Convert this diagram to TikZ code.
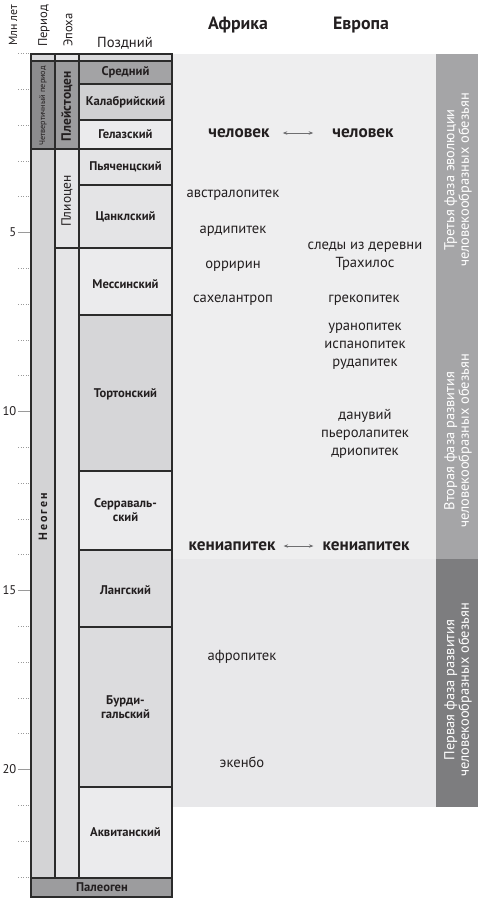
\documentclass[tikz,border=0pt]{standalone}
\usepackage{fontspec}
\setmainfont{PT Sans}
\usetikzlibrary{arrows.meta}
\definecolor{ink}{HTML}{231F20}
\definecolor{edge}{HTML}{2B2B2B}
\definecolor{panelA}{HTML}{EEEEEF}
\definecolor{panelC}{HTML}{E8E8EA}
\definecolor{bandA}{HTML}{A5A5A7}
\definecolor{bandC}{HTML}{7D7D7F}
\definecolor{quat}{HTML}{8C8C8E}
\definecolor{pleist}{HTML}{9C9C9E}
\definecolor{neog}{HTML}{D3D3D5}
\definecolor{epo}{HTML}{E5E5E7}
\definecolor{topc}{HTML}{D9D9DB}
\definecolor{sA}{HTML}{A3A3A5}
\definecolor{sB}{HTML}{D0D0D2}
\definecolor{sC}{HTML}{EBEBED}
\definecolor{sD}{HTML}{E4E4E6}
\definecolor{sE}{HTML}{D6D6D8}
\definecolor{sF}{HTML}{DCDCDE}
\definecolor{paleo}{HTML}{9C9C9E}
\definecolor{arrc}{HTML}{6E6E70}
\definecolor{tickc}{HTML}{9A9A9A}
\tikzset{
  cell/.style={draw=edge, line width=1.3pt},
  stglab/.style={font=\bfseries\fontsize{12.6}{14}\selectfont, text=ink, align=center, inner sep=0pt},
  species/.style={font=\fontsize{14.6}{18}\selectfont, text=ink, align=center, inner sep=0pt},
  bspecies/.style={font=\bfseries\fontsize{17.2}{19}\selectfont, text=ink, inner sep=0pt},
  head/.style={font=\fontsize{12.6}{14}\selectfont, text=ink, inner sep=0pt},
  bandlab/.style={font=\fontsize{14.4}{14.5}\selectfont, text=white, align=center, rotate=90, inner sep=0pt},
  twoway/.style={{Stealth[length=4.5pt,width=3.5pt]}-{Stealth[length=4.5pt,width=3.5pt]}, draw=arrc, line width=0.7pt},
  minortick/.style={draw=tickc, line width=0.6pt, dotted},
  majortick/.style={draw=tickc, line width=0.6pt}
}
\begin{document}
\begin{tikzpicture}[x=1pt,y=-1pt]
\useasboundingbox (0,0) rectangle (478,898);
\fill[white] (0,0) rectangle (478,898);
% right panel
\fill[panelA] (172,54) rectangle (436,559);
\fill[panelC] (172,559) rectangle (436,807);
\fill[bandA] (436,54) rectangle (478,559);
\fill[bandC] (436,559) rectangle (478,807);
% ticks
\foreach \k in {0,...,23}{\draw[minortick] (18,{53.5+35.8*\k}) -- (30,{53.5+35.8*\k});}
\foreach \k in {5,10,15,20}{\draw[majortick] (18,{53.5+35.8*\k}) -- (30,{53.5+35.8*\k});
  \node[head, anchor=east] (t\k) at (16.5,{53.5+35.8*\k}) {\k};}
% headers
\node[head, font=\fontsize{11.8}{13}\selectfont, rotate=90, anchor=west] (hMyr) at (13,46) {Млн лет};
\node[head, rotate=90, anchor=west] (hPer) at (44,47) {Период};
\node[head, rotate=90, anchor=west] (hEp) at (68,47) {Эпоха};
\node[head, font=\fontsize{14.6}{16}\selectfont] (hLate) at (125,43) {Поздний};
\node[bspecies, font=\bfseries\fontsize{17.8}{19}\selectfont] (hAf) at (238,25) {Африка};
\node[bspecies, font=\bfseries\fontsize{17.8}{19}\selectfont] (hEu) at (361,25) {Европа};
% period column
\filldraw[cell, fill=topc] (31,54) rectangle (55,61);
\filldraw[cell, fill=quat] (31,61) rectangle (55,149);
\filldraw[cell, fill=neog] (31,149) rectangle (55,878);
\node[font=\fontsize{8.2}{10}\selectfont, text=ink, rotate=90, inner sep=0pt] (quatlab) at (43,106) {Четвертичный период};
\node[font=\bfseries\fontsize{12}{13}\selectfont, text=ink, rotate=90, inner sep=0pt] (neolab) at (43,517) {Н\,е\,о\,г\,е\,н};
% epoch column
\filldraw[cell, fill=epo] (55,54) rectangle (79,61);
\filldraw[cell, fill=pleist] (55,61) rectangle (79,149);
\filldraw[cell, fill=epo] (55,149) rectangle (79,248);
\filldraw[cell, fill=epo] (55,248) rectangle (79,878);
\node[font=\bfseries\fontsize{13.5}{14}\selectfont, text=ink, rotate=90, inner sep=0pt] (plelab) at (67,106) {Плейстоцен};
\node[font=\fontsize{13.5}{14}\selectfont, text=ink, rotate=90, inner sep=0pt] (plilab) at (67,201) {Плиоцен};
% stage column
\filldraw[cell, fill=topc] (79,54) rectangle (172,61);
\filldraw[cell, fill=sA] (79,61) rectangle (172,84);
\node[stglab] (s1) at (125.5,72.5) {Средний};
\filldraw[cell, fill=sB] (79,84) rectangle (172,120);
\node[stglab] (s2) at (125.5,102) {Калабрийский};
\filldraw[cell, fill=sC] (79,120) rectangle (172,149);
\node[stglab] (s3) at (125.5,134.5) {Гелазский};
\filldraw[cell, fill=sD] (79,149) rectangle (172,185);
\node[stglab] (s4) at (125.5,167) {Пьяченцский};
\filldraw[cell, fill=sD] (79,185) rectangle (172,248);
\node[stglab] (s5) at (125.5,216.5) {Цанклский};
\filldraw[cell, fill=sC] (79,248) rectangle (172,315);
\node[stglab] (s6) at (125.5,284) {Мессинский};
\filldraw[cell, fill=sE] (79,315) rectangle (172,471);
\node[stglab] (s7) at (125.5,394) {Тортонский};
\filldraw[cell, fill=sC] (79,471) rectangle (172,550);
\node[stglab] (s8) at (125.5,510.5) {Серраваль-\\ский};
\filldraw[cell, fill=sF] (79,550) rectangle (172,627);
\node[stglab] (s9) at (125.5,590) {Лангский};
\filldraw[cell, fill=sF] (79,627) rectangle (172,787);
\node[stglab] (s10) at (125.5,707) {Бурди-\\гальский};
\filldraw[cell, fill=sC] (79,787) rectangle (172,878);
\node[stglab] (s11) at (125.5,832.5) {Аквитанский};
\filldraw[cell, fill=paleo] (31,878) rectangle (172,897);
\node[stglab] (s12) at (102,887.5) {Палеоген};
% Africa
\node[bspecies] (chA) at (239,133) {человек};
\node[species] (a1) at (233,195) {австралопитек};
\node[species] (a2) at (233,231) {ардипитек};
\node[species] (a3) at (233,266) {орририн};
\node[species] (a4) at (233,300) {сахелантроп};
\node[bspecies] (kA) at (232,546) {кениапитек};
\node[species] (a5) at (242,657) {афропитек};
\node[species] (a6) at (242,762) {экенбо};
% Europe
\node[bspecies] (chE) at (363,133) {человек};
\node[species] (e1) at (365,256) {следы из деревни\\Трахилос};
\node[species] (e2) at (364,300) {грекопитек};
\node[species] (e3) at (365,346) {уранопитек\\испанопитек\\рудапитек};
\node[species] (e4) at (365,434) {данувий\\пьеролапитек\\дриопитек};
\node[bspecies] (kE) at (366,546) {кениапитек};
% arrows
\draw[twoway] ([xshift=13pt]chA.east) -- ([xshift=-19pt]chE.west);
\draw[twoway] ([xshift=8pt]kA.east) -- ([xshift=-9pt]kE.west);
% bands
\node[bandlab] (b3) at (458,180) {Третья фаза эволюции\\человекообразных обезьян};
\node[bandlab] (b2) at (458,441) {Вторая фаза развития\\человекообразных обезьян};
\node[bandlab] (b1) at (458,690) {Первая фаза развития\\человекообразных обезьян};
\end{tikzpicture}
\end{document}
